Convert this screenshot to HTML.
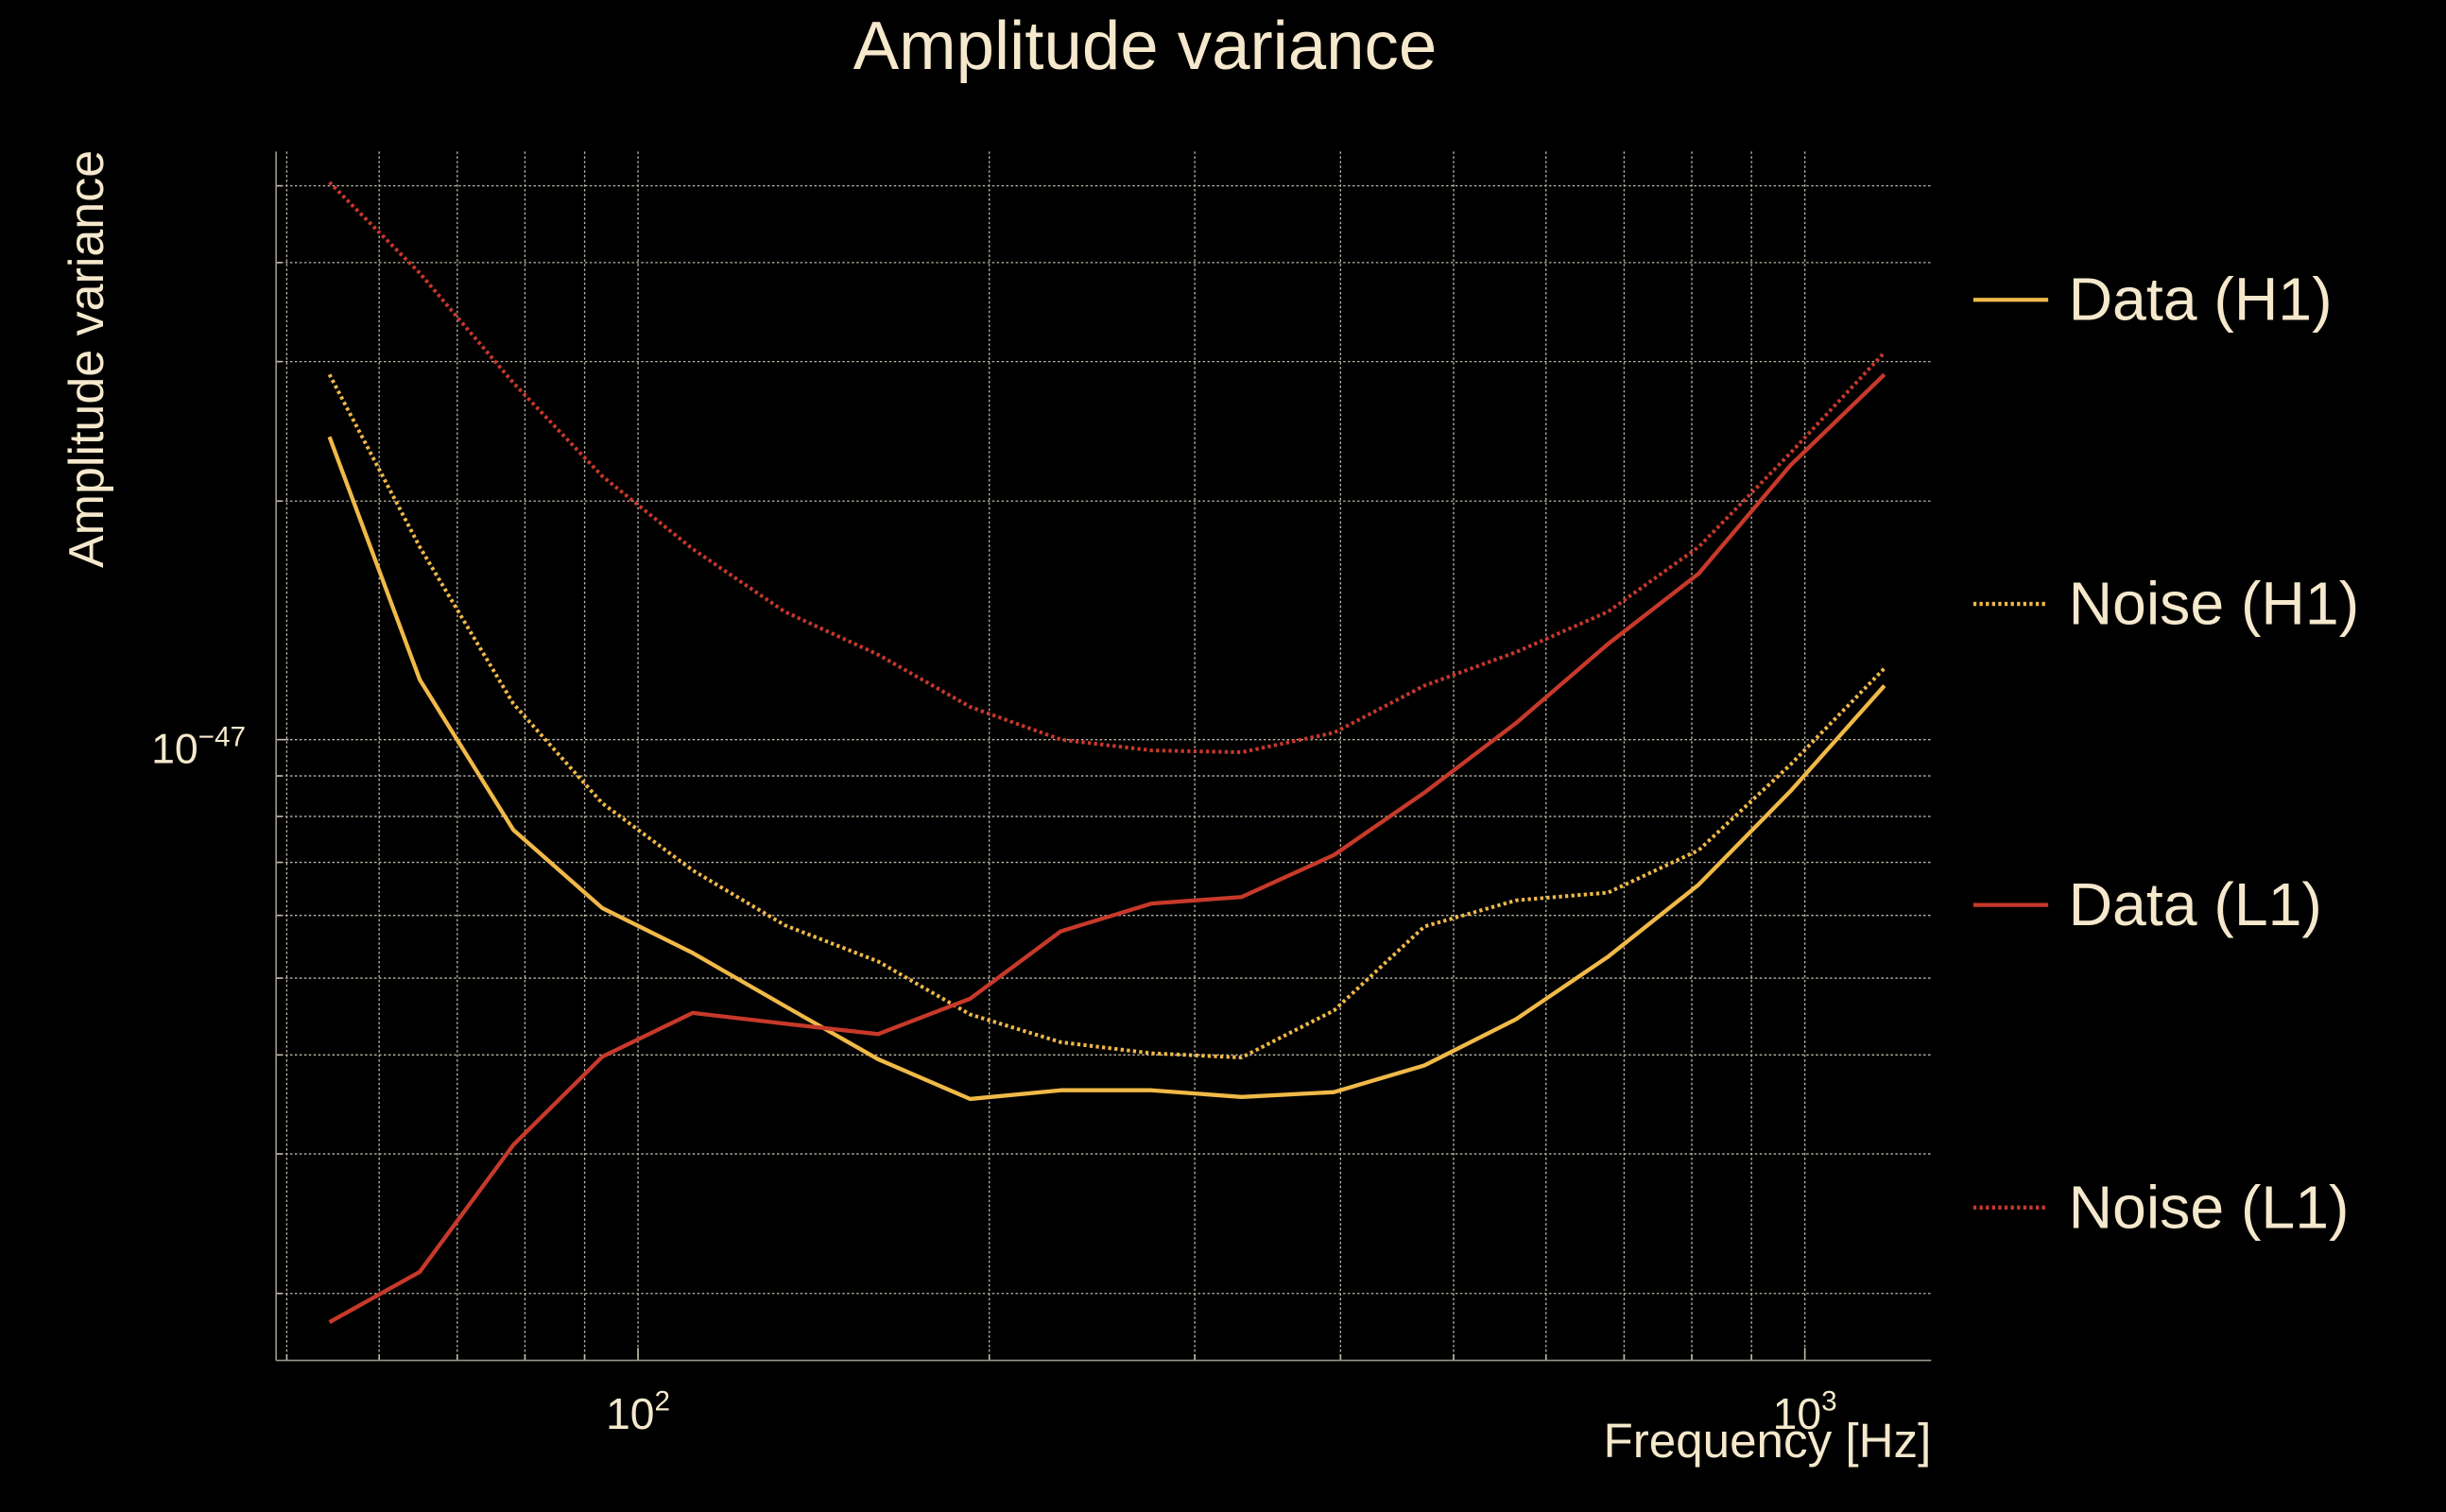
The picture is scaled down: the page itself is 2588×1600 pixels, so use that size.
<!DOCTYPE html>
<html><head><meta charset="utf-8"><style>
html,body{margin:0;padding:0;background:#000;}
svg{display:block;}
text{font-family:"Liberation Sans",sans-serif;fill:#f5e8cc;}
</style></head><body>
<svg id="chart" width="2588" height="1600" viewBox="0 0 1568 969" xmlns="http://www.w3.org/2000/svg">
<rect width="1568" height="969" fill="#000"/>
<text x="734" y="44" font-size="44" text-anchor="middle">Amplitude variance</text>
<text transform="translate(66,230) rotate(-90)" font-size="31.5" text-anchor="middle">Amplitude variance</text>
<text x="1238" y="934" font-size="31" text-anchor="end">Frequency [Hz]</text>
<g id="grid"></g>
<g id="axes"></g>
<g id="series"></g>
<g id="legend"></g>
</svg>
<script>
const freqs = [54.4,65.0,78.2,93.2,111.4,133.6,160.6,192.6,230.3,275.4,329,394.8,472,566,678,811,972,1170];
const dataH1 = [2.41,1.19,0.769,0.613,0.538,0.461,0.395,0.352,0.361,0.361,0.354,0.359,0.388,0.444,0.532,0.656,0.861,1.17];
const noiseH1 = [2.89,1.75,1.11,0.831,0.684,0.583,0.525,0.450,0.415,0.402,0.397,0.455,0.581,0.627,0.641,0.725,0.930,1.23];
const dataL1 = [0.184,0.213,0.308,0.398,0.452,0.438,0.425,0.471,0.573,0.621,0.633,0.715,0.857,1.05,1.32,1.62,2.22,2.89];
const noiseL1 = [5.05,3.88,2.82,2.15,1.74,1.45,1.28,1.10,1.00,0.969,0.964,1.02,1.17,1.29,1.45,1.75,2.30,3.08];
const xGrid = [50,60,70,80,90,100,200,300,400,500,600,700,800,900,1000];
const yGrid = [0.2,0.3,0.4,0.5,0.6,0.7,0.8,0.9,1,2,3,4,5];
const xTickLabels = [["10","2",100],["10","3",1000]];
const yTickLabels = [["10","\u221247",1]];
const seriesNames = ["Data (H1)","Noise (H1)","Data (L1)","Noise (L1)"];

const NS="http://www.w3.org/2000/svg";
const L=177,R=1238,T=97,B=872;
function xs(f){return 409+748*Math.log10(f/100);}
function ys(v){return 474-508*Math.log10(v);}
function mk(tag,attrs,parent){const e=document.createElementNS(NS,tag);for(const k in attrs)e.setAttribute(k,attrs[k]);parent.appendChild(e);return e;}
const grid=document.getElementById('grid'),axes=document.getElementById('axes'),ser=document.getElementById('series'),leg=document.getElementById('legend');
xGrid.forEach(f=>{const x=xs(f);const l=mk('line',{x1:x,x2:x,y1:T,y2:B,stroke:'#bdb7a8','stroke-width':0.8,'stroke-dasharray':'1.5,1.5'},grid);


const t=mk('line',{x1:x,x2:x,y1:B,y2:B-([100,1000].includes(f)?8:4),stroke:'#bdb7a8','stroke-width':1},axes);

});
yGrid.forEach(v=>{const y=ys(v);const l=mk('line',{x1:L,x2:R,y1:y,y2:y,stroke:'#bdb7a8','stroke-width':0.8,'stroke-dasharray':'1.5,1.5'},grid);


const t=mk('line',{x1:L,x2:L+(v===1?8:4),y1:y,y2:y,stroke:'#bdb7a8','stroke-width':1},axes);

});
const sp1=mk('line',{x1:L,x2:L,y1:T,y2:B,stroke:'#9a958a','stroke-width':1},axes);


const sp2=mk('line',{x1:L,x2:R,y1:B,y2:B,stroke:'#9a958a','stroke-width':1},axes);


xTickLabels.forEach(d=>{const t=mk('text',{x:xs(d[2]),y:916,'font-size':28,'text-anchor':'middle'},axes);


t.innerHTML=d[0]+'<tspan dy="-12" font-size="18">'+d[1]+'</tspan>';});
yTickLabels.forEach(d=>{const t=mk('text',{x:97,y:ys(d[2])+15,'font-size':27},axes);


t.innerHTML=d[0]+'<tspan dy="-11" font-size="18">'+d[1]+'</tspan>';});
const styles=[['#f0b948',null],['#f0b948','2,2'],['#c7392a',null],['#c7392a','2,2']];
const names=['data-h1-line','noise-h1-line','data-l1-line','noise-l1-line'];
[dataH1,noiseH1,dataL1,noiseL1].forEach((arr,i)=>{
const pts=arr.map((v,j)=>xs(freqs[j]).toFixed(1)+','+ys(v).toFixed(1)).join(' ');
const a={points:pts,fill:'none',stroke:styles[i][0],'stroke-width':2.6,'stroke-linejoin':'round'};
if(styles[i][1]){a['stroke-dasharray']=styles[i][1];a['stroke-width']=2.4;}
const p=mk('polyline',a,ser);


const ly=[190,385,578,772][i];
const ll={x1:1265,x2:1313,y1:ly+2,y2:ly+2,stroke:styles[i][0],'stroke-width':2.6};
if(styles[i][1])ll['stroke-dasharray']=styles[i][1];
const g=mk('g',{},leg);


mk('line',ll,g);
const t=mk('text',{x:1326,y:ly+15,'font-size':39},g);
t.textContent=seriesNames[i];
});
</script>
</body></html>
